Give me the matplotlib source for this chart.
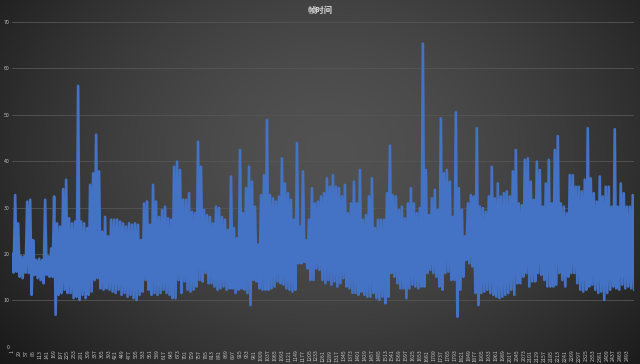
import numpy as np
import matplotlib
matplotlib.use("Agg")
import matplotlib.pyplot as plt

plt.rcParams['font.family'] = ['Noto Sans CJK SC', 'DejaVu Sans']
plt.rcParams['path.simplify'] = False

# frame time envelope, read per ~12-frame slice of the chart (ms)
upper = [20, 32.7, 26.6, 19.5, 19.5, 31.3, 31.7, 23, 18.7, 19, 18.7, 31.7, 19.5, 21.2, 32.4, 26.6,
         25.9, 34, 36, 27.7, 26.6, 27, 56.2, 27, 26.6, 25.6, 34.9, 37.4, 45.7, 37.8, 24.8, 28,
         23.8, 27.4, 27.4, 27.4, 27, 26.6, 25.9, 26.6, 26.3, 26.6, 26.3, 23, 30.9, 31.3, 26.3, 34.9,
         31.3, 28, 29.5, 30.2, 27.7, 27.4, 38.8, 39.9, 38.1, 31.7, 31.7, 33.1, 29.1, 28.8, 44.2, 38.8,
         29.5, 28.4, 28, 26.6, 30.2, 29.9, 28, 27.4, 25.2, 36.7, 25.6, 23.4, 42.4, 28.8, 34.2, 38.8,
         35.6, 30.2, 22, 32.7, 37, 48.9, 32.7, 32, 31.3, 32.4, 40.6, 35.2, 33.1, 31.7, 27.4, 43.9,
         25.9, 37.8, 23, 27.4, 34.2, 30.9, 31.3, 32.4, 33.1, 36.3, 34.5, 37, 34.5, 34.2, 32.4, 34.9,
         28.8, 30.9, 35.6, 30.9, 38.1, 27.4, 28.4, 32.4, 36.3, 25.6, 27.4, 27.4, 27.4, 33.1, 43.3, 32.7,
         32.4, 29.5, 30.2, 27.7, 30.9, 34.2, 30.9, 28.8, 29.9, 65.3, 38.1, 28.4, 32, 33.8, 29.5, 49.2,
         37.4, 38.1, 35.6, 28, 50.5, 34.2, 29.5, 23.8, 30.9, 32.7, 32.4, 47.1, 30.2, 29.9, 29.1, 32.4,
         38.8, 32, 35.2, 32.4, 33.1, 33.5, 32.4, 37.8, 42.4, 30.9, 30.5, 40.3, 40.6, 35.6, 31.7, 39.9,
         38.1, 30.2, 35.2, 40.3, 30.9, 42.4, 45.4, 30.9, 30.2, 28.8, 37, 37, 34.5, 34.5, 33.5, 36,
         47.1, 36.3, 33.1, 31.3, 36.7, 32.4, 34.5, 34.5, 30.2, 46.9, 30.2, 35.2, 33.1, 30.2, 30.2, 32.7]
lower = [16, 16.2, 15.1, 14.8, 16, 15.9, 11.2, 15.5, 14.8, 14.4, 13.7, 15.5, 15.1, 15.1, 6.9, 11.2,
         11.6, 12.3, 11.6, 11.6, 10.5, 10.8, 10.1, 11.2, 10.5, 11.2, 11.9, 14.4, 14.8, 12.6, 12.3, 12.6,
         12.3, 11.9, 11.6, 12.3, 11.2, 11.6, 10.8, 11.2, 10.5, 10.1, 11.2, 11.9, 14.4, 12.3, 11.2, 11.6,
         11.2, 11.6, 12.3, 11.6, 11.2, 10.5, 10.5, 14.4, 11.6, 14.1, 12.3, 11.9, 12.3, 13, 14.4, 14.1,
         15.9, 13.7, 13.7, 13, 12.3, 12.6, 13, 12.3, 12.6, 12.6, 11.6, 12.3, 12.6, 12.3, 11.6, 9.0,
         14.4, 14.1, 12.6, 12.3, 12.3, 12.3, 12.6, 13, 14.1, 13.7, 13.4, 12.6, 12.3, 11.9, 12.3, 18,
         18, 18.3, 16.9, 14.4, 14.4, 16.9, 16.6, 14.4, 13.7, 14.4, 13.4, 14.1, 13, 13.7, 14.8, 13,
         12.6, 11.6, 11.6, 11.2, 11.9, 11.2, 10.8, 10.8, 11.6, 10.5, 10.1, 10.8, 9.4, 10.8, 15.9, 15.1,
         13.7, 12.6, 12.6, 10.5, 12.6, 13.4, 13, 12.6, 13, 13, 15.9, 16.6, 15.9, 15.1, 13, 12.3,
         15.9, 16.2, 14.4, 14.4, 6.5, 12.3, 15.1, 18.7, 18, 17.3, 11.6, 9.0, 11.6, 11.9, 12.3, 11.6,
         11.2, 10.8, 10.5, 10.8, 11.2, 11.6, 12.3, 11.2, 13.7, 13.7, 15.1, 15.9, 13, 14.1, 14.1, 15.9,
         15.5, 14.4, 13, 13, 13, 13.4, 15.9, 14.4, 13, 15.1, 15.9, 15.9, 13.7, 12.3, 11.9, 12.3,
         13, 13.4, 12.3, 11.6, 11.9, 10.1, 11.6, 12.3, 13, 12.6, 12.3, 13.4, 12.6, 13, 12.6, 12.3]

n_frames = 2520
tick_frames = list(range(1, 2494, 28))
title = "帧时间"

frame_time = np.column_stack([upper, lower]).ravel()
frames = np.linspace(1, n_frames, len(frame_time))

fig = plt.figure(figsize=(6.4, 3.64), dpi=100)

# excel style dark radial background
bg = fig.add_axes([0, 0, 1, 1], zorder=-1)
yy, xx = np.mgrid[0:364, 0:640]
r = np.sqrt(((xx - 330) / 330.0) ** 2 + ((yy - 150) / 260.0) ** 2)
shade = 0.32 - 0.15 * np.clip(r, 0, 1.3) ** 1.6
bg.imshow(np.dstack([shade] * 3), aspect='auto', extent=[0, 1, 0, 1])
bg.axis('off')

ax = fig.add_axes([0.019, 0.047, 0.972, 0.893])
ax.patch.set_alpha(0)
ax.plot(frames, frame_time, color='#4472C4', lw=1.9)

ax.set_ylim(0, 70)
ax.set_yticks(range(0, 71, 10))
ax.set_xlim(1, n_frames)
ax.set_xticks(tick_frames)
ax.set_xticklabels([str(t) for t in tick_frames], rotation=90)
ax.tick_params(axis='both', length=0, labelsize=3.8, colors='#bfbfbf', pad=2)
ax.grid(axis='y', color='#555555', lw=0.6)
ax.set_axisbelow(True)
for s in ax.spines.values():
    s.set_visible(False)

fig.text(0.5, 0.972, title, ha='center', va='center', fontsize=6, color='#d9d9d9',
         fontweight='bold')

fig.savefig('out.png', dpi=100)
